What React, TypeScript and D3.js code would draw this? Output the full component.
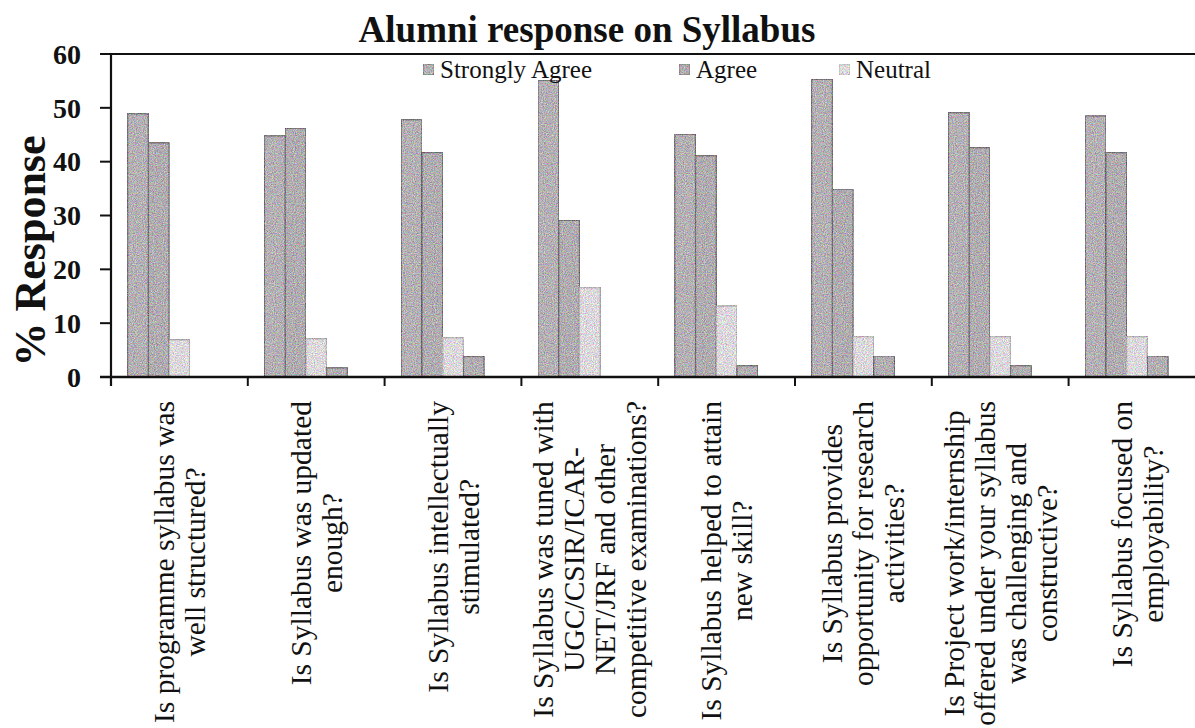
import React, { useMemo } from "react";
import * as d3 from "d3";

// ---- data ----
const categoryLines: string[][] = [
  ["Is programme syllabus was", "well structured?"],
  ["Is Syllabus was updated", "enough?"],
  ["Is Syllabus intellectually", "stimulated?"],
  ["Is Syllabus was tuned with", "UGC/CSIR/ICAR-", "NET/JRF and other", "competitive examinations?"],
  ["Is Syllabus helped to attain", "new skill?"],
  ["Is Syllabus provides", "opportunity for research", "activities?"],
  ["Is Project work/internship", "offered under your syllabus", "was challenging and", "constructive?"],
  ["Is Syllabus focused on", "employability?"],
];
const categories = categoryLines.map((l) => l.join(" "));

const seriesNames = ["Strongly Agree", "Agree", "Neutral", "Disagree", "Strongly Disagree"];
const stronglyAgree = [48.9, 44.8, 47.8, 55.1, 45.1, 55.3, 49.1, 48.5];
const agree = [43.5, 46.2, 41.7, 29.1, 41.1, 34.9, 42.6, 41.7];
const neutral = [6.9, 7.1, 7.3, 16.6, 13.2, 7.5, 7.5, 7.5];
const disagree = [0, 1.7, 3.8, 0, 2.1, 3.9, 2.1, 3.9];
const stronglyDisagree = [0, 0, 0, 0, 0, 0, 0, 0];
const seriesValues = [stronglyAgree, agree, neutral, disagree, stronglyDisagree];

const legendNames = ["Strongly Agree", "Agree", "Neutral"];
const yTicks = [0, 10, 20, 30, 40, 50, 60];
const titleText = "Alumni response on Syllabus";
const yTitle = "% Response";

// ---- style / layout ----
const W = 1195;
const H = 728;
const M = { left: 111, top: 54, bottom: 377, step: 136.8 };
const fills = ["#b4b0b4", "#b0acb0", "#dcd8dc", "#b2aeb2", "#8a868a"];
const strokes = ["#767276", "#747074", "#b4b0b4", "#767276", "#605c60"];
const legendX = [423, 679, 839];
const SERIF = '"Liberation Serif", "Times New Roman", serif';
const labelFont = 29.5;
const labelLineH = 31;
const labelTop = 401;

export default function App() {
  const x0 = d3
    .scaleBand<string>()
    .domain(categories)
    .range([M.left, M.left + categories.length * M.step])
    .paddingInner(0.243)
    .paddingOuter(0.243 / 2);
  const x1 = d3.scaleBand<string>().domain(seriesNames).range([0, x0.bandwidth()]).padding(0);
  const y = d3.scaleLinear().domain([0, 60]).range([M.bottom, M.top]);

  const widths = useMemo(() => {
    const c = document.createElement("canvas").getContext("2d");
    return categoryLines.map((lines) =>
      lines.map((t) => {
        if (!c) return t.length * labelFont * 0.45;
        c.font = `${labelFont}px ${SERIF}`;
        return c.measureText(t).width;
      })
    );
  }, []);

  const boundaries = d3.range(categories.length + 1).map((i) => M.left + i * M.step);

  return (
    <svg
      width={W}
      height={H}
      style={{ position: "absolute", left: 0, top: 0, background: "#fff" }}
      fontFamily={SERIF}
    >
      <defs>
        <filter id="grain" x="0" y="0" width="100%" height="100%" colorInterpolationFilters="sRGB">
          <feTurbulence type="fractalNoise" baseFrequency="0.9" numOctaves="2" seed="7" result="noise" />
          <feColorMatrix
            in="noise"
            type="matrix"
            values="2 0 0 0 -0.5  0 2 0 0 -0.5  0 0 2 0 -0.5  0 0 0 0 1"
            result="n2"
          />
          <feComposite in="SourceGraphic" in2="n2" operator="arithmetic" k1="0" k2="1" k3="0.36" k4="-0.18" result="mix" />
          <feComposite in="mix" in2="SourceGraphic" operator="in" />
        </filter>
      </defs>
      <rect width={W} height={H} fill="#fff" />

      {/* title */}
      <text x={587} y={42} textAnchor="middle" fontSize={37} fontWeight="bold" fill="#111">
        {titleText}
      </text>

      {/* bars */}
      {categories.map((cat, ci) => (
        <g key={cat}>
          {seriesNames.map((s, si) => {
            const v = seriesValues[si][ci];
            if (!v) return null;
            const bx = (x0(cat) ?? 0) + (x1(s) ?? 0);
            return (
              <rect
                key={s}
                x={bx}
                y={y(v)}
                width={x1.bandwidth()}
                height={y(0) - y(v)}
                fill={fills[si]}
                stroke={strokes[si]}
                strokeWidth={1.3}
                filter="url(#grain)"
              />
            );
          })}
        </g>
      ))}

      {/* top border */}
      <line x1={100} x2={W} y1={y(60)} y2={y(60)} stroke="#111" strokeWidth={2.2} />
      {/* y axis */}
      <line x1={M.left} x2={M.left} y1={y(60)} y2={y(0) + 9} stroke="#111" strokeWidth={2.2} />
      {yTicks.map((t) => (
        <g key={t}>
          <line x1={100} x2={M.left} y1={y(t)} y2={y(t)} stroke="#111" strokeWidth={2} />
          <text x={81} y={y(t)} dy="0.35em" textAnchor="end" fontSize={28} fontWeight="bold" fill="#111">
            {t}
          </text>
        </g>
      ))}
      {/* x axis */}
      <line x1={100} x2={W} y1={y(0)} y2={y(0)} stroke="#111" strokeWidth={2.4} />
      {boundaries.map((b, i) => (
        <line key={i} x1={b} x2={b} y1={y(0)} y2={y(0) + 9} stroke="#111" strokeWidth={2} />
      ))}

      {/* y title */}
      <text
        transform={`translate(45, 251) rotate(-90)`}
        textAnchor="middle"
        fontSize={44}
        fontWeight="bold"
        fill="#111"
      >
        {yTitle}
      </text>

      {/* category labels */}
      {categoryLines.map((lines, ci) => {
        const cx = (x0(categories[ci]) ?? 0) + x0.bandwidth() / 2;
        const maxLen = Math.max(...widths[ci]);
        const cy = labelTop + maxLen / 2;
        return (
          <g key={ci}>
            {lines.map((ln, li) => {
              const off = (li - (lines.length - 1) / 2) * labelLineH;
              return (
                <text
                  key={li}
                  transform={`translate(${cx + off}, ${cy}) rotate(-90)`}
                  textAnchor="middle"
                  dominantBaseline="central"
                  fontSize={labelFont}
                  fill="#111"
                >
                  {ln}
                </text>
              );
            })}
          </g>
        );
      })}

      {/* legend */}
      {legendNames.map((n, i) => (
        <g key={n}>
          <rect x={legendX[i]} y={64} width={11} height={11} fill={fills[i]} stroke={strokes[i]} strokeWidth={1} filter="url(#grain)" />
          <text x={legendX[i] + 17} y={78} fontSize={25} fill="#111">
            {n}
          </text>
        </g>
      ))}
    </svg>
  );
}
